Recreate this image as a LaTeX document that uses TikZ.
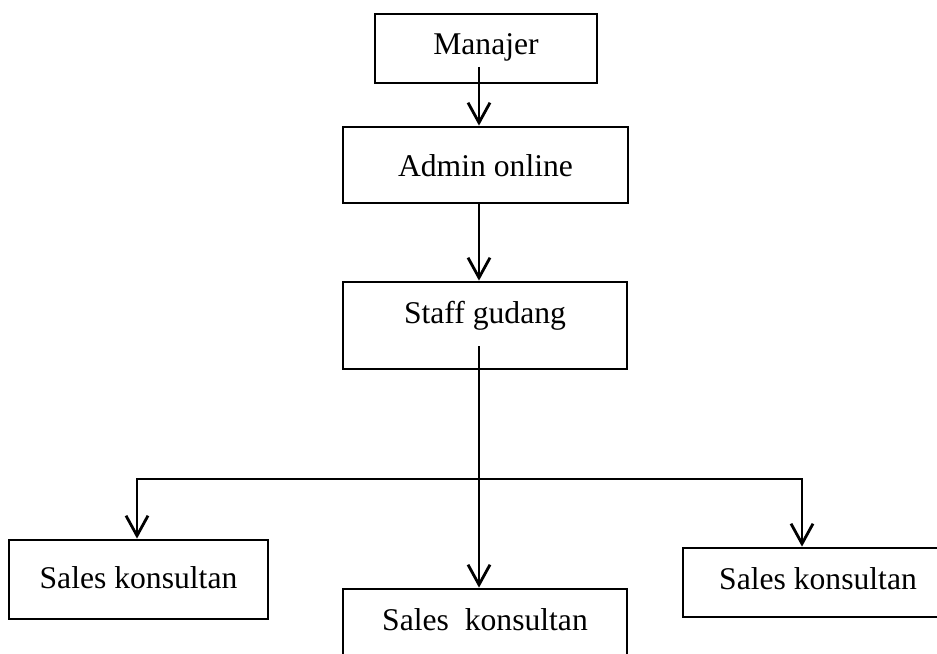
\documentclass[tikz,border=0pt]{standalone}
\usepackage{fontspec}
\setmainfont{Liberation Serif}
\usetikzlibrary{positioning}
\usetikzlibrary{arrows.meta}
\begin{document}
\begin{tikzpicture}[x=0.03cm,y=-0.03cm,>={Straight Barb[length=0.6cm,width=0.66cm]}]
% les paramètres
\tikzstyle kotakorg=[draw,line width=2.4pt,rectangle,inner sep=0pt,anchor=base,font=\fontsize{27pt}{32pt}\selectfont]
\tikzstyle garisorg=[line width=2.4pt]
\tikzstyle panahorg=[garisorg,->]
\newcommand{\kolom}{479} % abscisse des flèches

\useasboundingbox (0,0) rectangle (937,654);
\clip (0,0) rectangle (937,654);

% les boîtes
\node[kotakorg,minimum width=6.66cm,text height=1.23cm,text depth=0.84cm] (manajer) at (486,55) {Manajer};
\node[kotakorg,minimum width=8.55cm,text height=1.5cm,text depth=0.78cm] (admin) at (485.5,177) {Admin online};
\node[kotakorg,minimum width=8.52cm,text height=1.23cm,text depth=1.38cm] (staff) at (485,323) {Staff gudang};
\node[kotakorg,minimum width=7.77cm,text height=1.44cm,text depth=0.93cm] (sales1) at (138.5,588) {Sales konsultan};
\node[kotakorg,minimum width=8.52cm,text height=1.23cm,text depth=2.1cm] (sales2) at (485,630) {Sales\ \ konsultan};
\node[kotakorg,minimum width=8.1cm,text height=1.23cm,text depth=0.84cm] (sales3) at (818,589) {Sales konsultan};

% les points de départ
\coordinate (m0) at (\kolom,67);
\coordinate (s0) at (\kolom,346);
\coordinate (cabkiri) at (137,479);
\coordinate (cabkanan) at (802,479);

% les flèches
\draw[panahorg] (m0) -- (m0 |- admin.north);
\draw[panahorg] (admin.south -| m0) -- (m0 |- staff.north);
\draw[panahorg] (s0) -- (s0 |- sales2.north);
\draw[garisorg,<->] (cabkiri |- sales1.north) -- (cabkiri) -- (cabkanan) -- (cabkanan |- sales3.north);
\end{tikzpicture}
\end{document}
